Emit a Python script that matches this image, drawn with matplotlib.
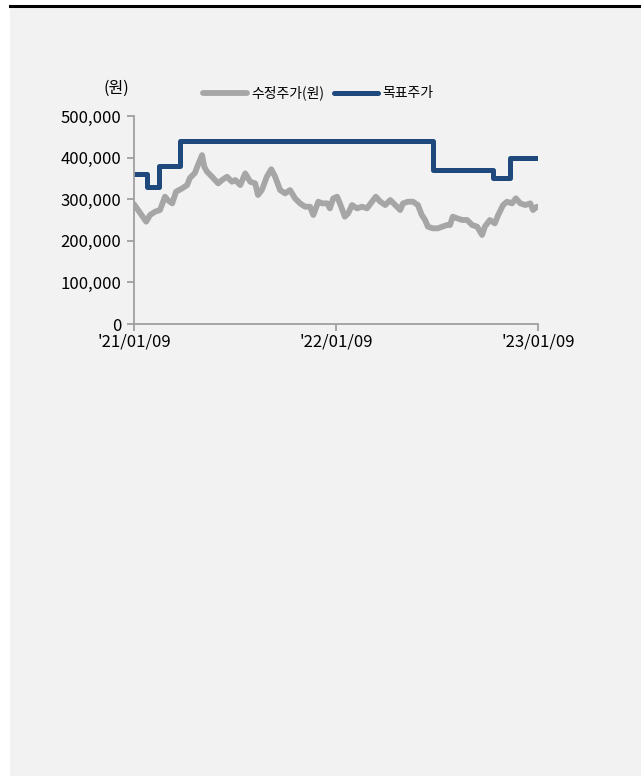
import pandas as pd
import matplotlib.pyplot as plt
import matplotlib.dates as mdates
from matplotlib.patches import Rectangle
from matplotlib.lines import Line2D
from matplotlib.ticker import FuncFormatter

plt.rcParams['font.family'] = ['Noto Sans CJK KR', 'DejaVu Sans']

start = pd.Timestamp('2021-01-09')
end = pd.Timestamp('2023-01-09')

# adjusted close, sampled roughly every week (days since 2021-01-09)
price_days = [0, 22, 29, 38, 47, 56, 61, 69, 76, 87, 96, 101, 110, 117, 123, 127,
              132, 141, 152, 159, 168, 177, 183, 192, 201, 210, 219, 224, 231, 240,
              248, 255, 264, 273, 282, 291, 300, 309, 318, 324, 333, 340, 349, 354,
              360, 367, 372, 381, 387, 394, 403, 412, 421, 430, 437, 445, 454, 463,
              472, 481, 486, 495, 504, 513, 520, 526, 531, 540, 549, 557, 566, 571,
              576, 584, 593, 602, 611, 620, 629, 634, 643, 652, 658, 667, 674, 683,
              690, 698, 707, 716, 721, 728]
price = [288000, 246000, 262000, 270000, 274000, 306000, 298000, 290000, 318000,
         326000, 334000, 351000, 363000, 387000, 406000, 378000, 366000, 354000,
         338000, 346000, 354000, 342000, 346000, 334000, 362000, 342000, 338000,
         310000, 322000, 354000, 372000, 354000, 322000, 314000, 322000, 302000,
         290000, 282000, 282000, 262000, 294000, 290000, 290000, 278000, 302000,
         306000, 290000, 258000, 266000, 286000, 278000, 282000, 278000, 294000,
         306000, 294000, 286000, 298000, 286000, 274000, 290000, 294000, 294000,
         286000, 262000, 250000, 234000, 230000, 230000, 234000, 238000, 238000,
         258000, 254000, 250000, 250000, 238000, 234000, 214000, 234000, 250000,
         242000, 262000, 286000, 294000, 290000, 302000, 290000, 286000, 290000,
         274000, 282000]

# target price changes
target_dates = ['2021-01-09', '2021-02-01', '2021-02-23', '2021-04-03',
                '2022-07-04', '2022-10-19', '2022-11-19', '2023-01-09']
target = [360000, 330000, 380000, 440000, 370000, 350000, 400000, 400000]

price_x = [start + pd.Timedelta(days=d) for d in price_days]
target_x = pd.to_datetime(target_dates)

fig = plt.figure(figsize=(6.41, 7.76), dpi=100)
fig.add_artist(Rectangle((10 / 641, 0), 1, 1 - 7 / 776, transform=fig.transFigure,
                         facecolor='#f2f2f2', edgecolor='none', zorder=-10))
fig.add_artist(Line2D([10 / 641, 1], [1 - 6 / 776] * 2, color='black', lw=2.2))

ax = fig.add_axes([134 / 641, 1 - 324 / 776, 404 / 641, 208 / 776])
ax.set_facecolor('none')
ax.set_zorder(5)

gray = '#a6a6a6'
navy = '#1f497d'
ax.plot(price_x, price, color=gray, lw=4.2, solid_capstyle='round',
        solid_joinstyle='round', label='수정주가(원)')
ax.plot(target_x, target, color=navy, lw=3.6, drawstyle='steps-post',
        solid_capstyle='round', label='목표주가')

ax.set_xlim(start, end)
ax.set_ylim(0, 500000)
ax.set_yticks(range(0, 500001, 100000))
ax.yaxis.set_major_formatter(FuncFormatter(lambda v, p: f'{int(v):,}'))
ax.set_xticks(pd.to_datetime(['2021-01-09', '2022-01-09', '2023-01-09']))
ax.xaxis.set_major_formatter(mdates.DateFormatter("'%y/%m/%d"))

for side in ['top', 'right']:
    ax.spines[side].set_visible(False)
for side in ['left', 'bottom']:
    ax.spines[side].set_color('#a0a0a0')
    ax.spines[side].set_linewidth(1.3)
ax.tick_params(axis='both', colors='#a0a0a0', labelcolor='black', labelsize=12,
               length=5, width=1.3)
ax.tick_params(axis='y', pad=4)
ax.tick_params(axis='x', pad=2)

fig.text(116 / 641, 1 - 88 / 776, '(원)', ha='center', va='center', fontsize=11.5)
fig.legend(loc='center', bbox_to_anchor=(318 / 641, 1 - 93 / 776), ncol=2,
           frameon=False, fontsize=10, handlelength=3.2, handletextpad=0.3,
           columnspacing=0.7)

fig.savefig('out.png', dpi=100)
